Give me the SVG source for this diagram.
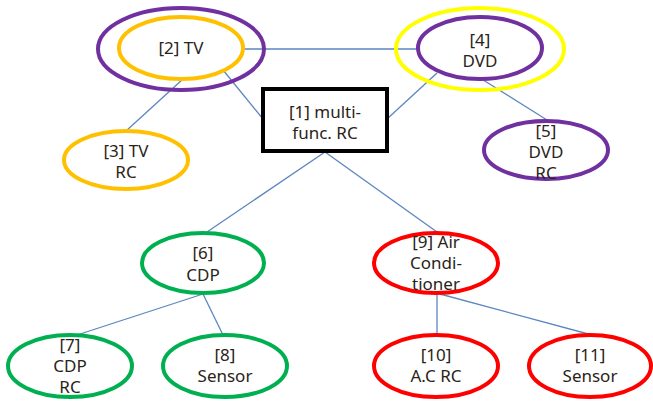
<svg xmlns="http://www.w3.org/2000/svg" width="653" height="401" viewBox="0 0 653 401">
<style>
.e{fill:none;stroke-width:4}
.p{stroke:#7030A0}.o{stroke:#FFC000}.y{stroke:#FFFF00}.g{stroke:#00B050}.r{stroke:#FF0000}
.c line{stroke:#5B86C0;stroke-width:1.3}
text{font-family:"Noto Sans","Liberation Sans",sans-serif;font-size:17px;fill:#2a2418;text-anchor:middle}
</style>
<rect width="653" height="401" fill="#fff"/>
<g class="c">
<line x1="242" y1="49" x2="418" y2="49"/>
<line x1="183" y1="79" x2="126" y2="131"/>
<line x1="223" y1="70" x2="263" y2="119"/>
<line x1="437" y1="73" x2="387" y2="119"/>
<line x1="480" y1="78" x2="547" y2="120"/>
<line x1="325" y1="152" x2="207" y2="232"/>
<line x1="325" y1="152" x2="437" y2="232"/>
<line x1="203" y1="294" x2="77" y2="335"/>
<line x1="203" y1="294" x2="223" y2="335"/>
<line x1="437" y1="294" x2="437" y2="335"/>
<line x1="440" y1="294" x2="592" y2="335"/>
</g>
<g id="n1"><rect x="263" y="89" width="124" height="62" fill="#fff" stroke="#000" stroke-width="4"/><text x="325" y="118">[1] multi-</text><text x="325" y="139">func. RC</text></g>
<g id="n2"><ellipse class="e p" cx="181" cy="49" rx="83" ry="41"/><ellipse class="e o" cx="181" cy="48" rx="62" ry="31"/><text x="181" y="54">[2] TV</text></g>
<g id="n3"><ellipse class="e o" cx="126" cy="160" rx="62" ry="29"/><text x="126" y="157">[3] TV</text><text x="126" y="178">RC</text></g>
<g id="n4"><ellipse class="e y" cx="480" cy="49" rx="84" ry="41"/><ellipse class="e p" cx="480" cy="48" rx="62" ry="31"/><text x="480" y="46">[4]</text><text x="480" y="67">DVD</text></g>
<g id="n5"><ellipse class="e p" cx="546" cy="150" rx="62" ry="29"/><text x="546" y="137">[5]</text><text x="546" y="158">DVD</text><text x="546" y="179">RC</text></g>
<g id="n6"><ellipse class="e g" cx="203" cy="263" rx="61" ry="30"/><text x="203" y="259">[6]</text><text x="203" y="281">CDP</text></g>
<g id="n7"><ellipse class="e g" cx="70" cy="366" rx="62" ry="31"/><text x="70" y="351">[7]</text><text x="70" y="372">CDP</text><text x="70" y="393">RC</text></g>
<g id="n8"><ellipse class="e g" cx="225" cy="366" rx="62" ry="31"/><text x="225" y="361">[8]</text><text x="225" y="382">Sensor</text></g>
<g id="n9"><ellipse class="e r" cx="436" cy="263" rx="62" ry="30"/><text x="436" y="248">[9] Air</text><text x="436" y="269">Condi-</text><text x="436" y="290">tioner</text></g>
<g id="n10"><ellipse class="e r" cx="436" cy="366" rx="62" ry="31"/><text x="436" y="361">[10]</text><text x="436" y="382">A.C RC</text></g>
<g id="n11"><ellipse class="e r" cx="590" cy="366" rx="61" ry="31"/><text x="590" y="361">[11]</text><text x="590" y="382">Sensor</text></g>
</svg>
